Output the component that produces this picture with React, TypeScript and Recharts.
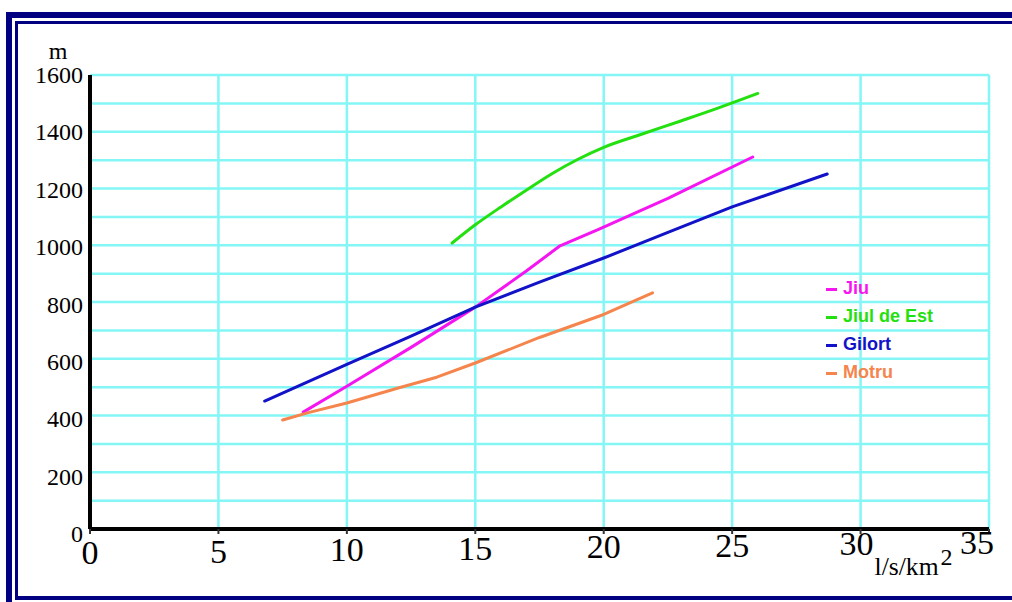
import React from "react";
import {
  LineChart,
  Line,
  XAxis,
  YAxis,
  CartesianGrid,
  Legend,
  Label,
} from "recharts";

// values (x = l/s/km2, y = m)
const jiuX = [8.3, 10, 12.5, 15, 17, 18.3, 19.8, 22.5, 25.8];
const jiuY = [412, 503, 640, 782, 910, 998, 1056, 1165, 1311];

const jiulEstX = [14.1, 15, 16, 17, 18, 19, 20, 21.5, 23, 24.5, 26];
const jiulEstY = [1008, 1072, 1135, 1195, 1253, 1303, 1345, 1392, 1438, 1485, 1535];

const gilortX = [6.8, 10, 12.5, 15, 17.5, 20, 22.5, 25, 28.7];
const gilortY = [451, 580, 680, 782, 870, 955, 1045, 1135, 1251];

const motruX = [7.5, 8.5, 10, 12, 13.5, 15, 17.5, 20, 21.9];
const motruY = [384, 410, 444, 497, 535, 585, 675, 756, 832];

const xTicks = [0, 5, 10, 15, 20, 25, 30, 35];
const yTicks = [0, 100, 200, 300, 400, 500, 600, 700, 800, 900, 1000, 1100, 1200, 1300, 1400, 1500, 1600];

const toPoints = (xs: number[], ys: number[]) => xs.map((x, i) => ({ x, y: ys[i] }));

const series = [
  { name: "Jiu", color: "#f515f0", data: toPoints(jiuX, jiuY) },
  { name: "Jiul de Est", color: "#25e010", data: toPoints(jiulEstX, jiulEstY) },
  { name: "Gilort", color: "#1212c8", data: toPoints(gilortX, gilortY) },
  { name: "Motru", color: "#f5854c", data: toPoints(motruX, motruY) },
];

const SERIF = '"Liberation Serif", "Times New Roman", serif';
const GRID = "#84f6f6";

function YTick({ x, y, payload }: any) {
  const v = payload.value;
  if (v % 200 !== 0) return <g />;
  const off = 8 + ((1600 - v) / 1600) * 5;
  return (
    <text x={x + 1} y={y + off} textAnchor="end" fontFamily={SERIF} fontSize={24} fill="#000">
      {v}
    </text>
  );
}

function XTick({ x, y, payload }: any) {
  const v = payload.value;
  const base = y + 28 - v * 0.3;
  let anchor = "middle";
  let tx = x;
  if (v === 30) tx = x - 4;
  if (v === 35) {
    anchor = "end";
    tx = x + 5;
  }
  return (
    <text x={tx} y={base} textAnchor={anchor} fontFamily={SERIF} fontSize={34} fill="#000">
      {v}
    </text>
  );
}

function UnitLabel({ viewBox }: any) {
  const x0 = viewBox.x + (viewBox.width * 30) / 35 + 14;
  const y0 = viewBox.y + 46;
  return (
    <g>
      <text x={x0} y={y0} fontFamily={SERIF} fontSize={25} textLength={64} lengthAdjust="spacingAndGlyphs" fill="#000">
        l/s/km
      </text>
      <text x={x0 + 66} y={y0 - 10} fontFamily={SERIF} fontSize={24} fill="#000">
        2
      </text>
    </g>
  );
}

function MLabel({ viewBox }: any) {
  return (
    <text x={viewBox.x + 48} y={viewBox.y - 16} textAnchor="middle" fontFamily={SERIF} fontSize={24} fill="#000">
      m
    </text>
  );
}

function LegendBox() {
  return (
    <div style={{ fontFamily: '"Liberation Sans", Arial, sans-serif', fontWeight: 700, fontSize: 18 }}>
      {series.map((s) => (
        <div key={s.name} style={{ height: 28, lineHeight: "28px", display: "flex", alignItems: "center", color: s.color }}>
          <span style={{ display: "inline-block", width: 11, height: 3, background: s.color, marginRight: 6, marginTop: 2 }} />
          <span>{s.name}</span>
        </div>
      ))}
    </div>
  );
}

export default function App() {
  return (
    <div style={{ position: "absolute", left: 0, top: 0, width: 1012, height: 602, background: "#fff", overflow: "hidden" }}>
      <div style={{ position: "absolute", left: 6, top: 12, width: 1100, height: 700, border: "6px solid #000080", boxSizing: "border-box" }} />
      <div
        style={{
          position: "absolute",
          left: 15,
          top: 21,
          width: 1100,
          height: 579,
          borderTop: "3px solid #000080",
          borderLeft: "3px solid #000080",
          borderBottom: "4px solid #000080",
          boxSizing: "border-box",
        }}
      />
      <div style={{ position: "absolute", left: 0, top: 0 }}>
        <LineChart width={1012} height={602} margin={{ top: 75, right: 23, bottom: 13, left: 10 }}>
          <CartesianGrid stroke={GRID} strokeWidth={2.5} />
          <XAxis
            type="number"
            dataKey="x"
            domain={[0, 35]}
            ticks={xTicks}
            height={60}
            axisLine={{ stroke: "#000", strokeWidth: 4 }}
            tickSize={5}
            tickLine={{ stroke: "#333", strokeWidth: 2 }}
            tick={<XTick />}
            allowDataOverflow
          >
            <Label content={<UnitLabel />} />
          </XAxis>
          <YAxis
            type="number"
            dataKey="y"
            domain={[0, 1600]}
            ticks={yTicks}
            width={80}
            axisLine={{ stroke: "#000", strokeWidth: 4 }}
            tickLine={false}
            tick={<YTick />}
            interval={0}
          >
            <Label content={<MLabel />} />
          </YAxis>
          <Legend
            layout="vertical"
            align="center"
            verticalAlign="middle"
            content={<LegendBox />}
            wrapperStyle={{ left: 826, top: 274, width: 170 }}
          />
          {series.map((s) => (
            <Line
              key={s.name}
              name={s.name}
              data={s.data}
              dataKey="y"
              type={s.name === "Jiul de Est" ? "monotone" : "linear"}
              stroke={s.color}
              strokeWidth={3}
              strokeLinejoin="round"
              strokeLinecap="round"
              dot={false}
              isAnimationActive={false}
              legendType="plainline"
            />
          ))}
        </LineChart>
      </div>
    </div>
  );
}
